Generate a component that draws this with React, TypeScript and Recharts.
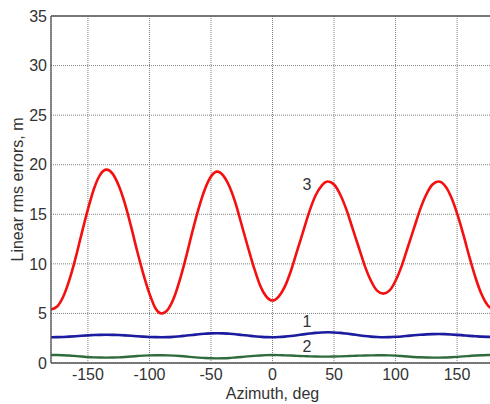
import { CartesianGrid, Line, LineChart, ReferenceDot, ReferenceLine, XAxis, YAxis } from 'recharts';

// azimuth, deg (5° step)
const azimuth = [
  -180, -175, -170, -165, -160, -155, -150, -145, -140, -135, -130, -125, -120, -115, -110, -105, -100, -95, -90,
  -85, -80, -75, -70, -65, -60, -55, -50, -45, -40, -35, -30, -25, -20, -15, -10, -5, 0,
  5, 10, 15, 20, 25, 30, 35, 40, 45, 50, 55, 60, 65, 70, 75, 80, 85, 90,
  95, 100, 105, 110, 115, 120, 125, 130, 135, 140, 145, 150, 155, 160, 165, 170, 175, 180,
];

// curve 1 (blue)
const curve1 = [
  2.6, 2.61, 2.63, 2.66, 2.7, 2.75, 2.79, 2.82, 2.84, 2.85, 2.84, 2.82, 2.79, 2.75, 2.7, 2.66, 2.63, 2.61, 2.6,
  2.61, 2.65, 2.7, 2.77, 2.83, 2.9, 2.95, 2.99, 3.0, 2.99, 2.95, 2.9, 2.83, 2.77, 2.7, 2.65, 2.61, 2.6,
  2.62, 2.66, 2.72, 2.8, 2.89, 2.97, 3.04, 3.08, 3.1, 3.08, 3.04, 2.97, 2.89, 2.8, 2.72, 2.66, 2.62, 2.6,
  2.61, 2.64, 2.68, 2.74, 2.8, 2.85, 2.89, 2.91, 2.92, 2.91, 2.88, 2.84, 2.79, 2.74, 2.7, 2.66, 2.64, 2.63,
];

// curve 2 (green)
const curve2 = [
  0.8, 0.8, 0.78, 0.75, 0.7, 0.65, 0.6, 0.57, 0.55, 0.54, 0.55, 0.57, 0.61, 0.66, 0.7, 0.74, 0.77, 0.78, 0.78,
  0.77, 0.74, 0.7, 0.65, 0.59, 0.54, 0.5, 0.48, 0.47, 0.48, 0.51, 0.56, 0.61, 0.67, 0.72, 0.76, 0.79, 0.8,
  0.79, 0.77, 0.75, 0.72, 0.69, 0.67, 0.65, 0.64, 0.64, 0.65, 0.67, 0.69, 0.72, 0.74, 0.76, 0.77, 0.78, 0.78,
  0.77, 0.74, 0.7, 0.66, 0.61, 0.58, 0.56, 0.54, 0.54, 0.55, 0.58, 0.62, 0.67, 0.71, 0.75, 0.78, 0.8, 0.8,
];

// curve 3 (red)
const curve3 = [
  5.4, 5.7, 6.7, 8.4, 10.6, 13.1, 15.5, 17.6, 19.0, 19.5, 19.1, 17.9, 16.1, 13.8, 11.3, 9.0, 7.0, 5.5, 5.0,
  5.4, 6.6, 8.5, 10.8, 13.3, 15.6, 17.5, 18.8, 19.3, 18.9, 17.8, 16.1, 13.9, 11.7, 9.6, 7.8, 6.7, 6.3,
  6.7, 7.7, 9.3, 11.3, 13.3, 15.3, 16.9, 17.9, 18.3, 18.0, 17.0, 15.5, 13.6, 11.7, 9.8, 8.3, 7.3, 7.0,
  7.3, 8.3, 9.8, 11.7, 13.6, 15.5, 17.0, 18.0, 18.3, 17.9, 16.8, 15.1, 13.0, 10.7, 8.6, 6.9, 5.8, 5.4,
];

const xTicks = [-150, -100, -50, 0, 50, 100, 150];
const yTicks = [0, 5, 10, 15, 20, 25, 30, 35];

// curve labels: [text, azimuth, value]
const curveLabels: [string, number, number][] = [
  ['3', 28, 18],
  ['1', 28, 4.2],
  ['2', 28, 1.65],
];

const FONT = 'Liberation Sans, Arial, sans-serif';
const TEXT = '#333333';

export default function App() {
  const data = azimuth.map((a, i) => ({ az: a, c1: curve1[i], c2: curve2[i], c3: curve3[i] }));

  return (
    <div style={{ position: 'absolute', left: 0, top: 0, width: 490, height: 404, overflow: 'hidden', background: '#fff' }}>
      <LineChart width={500} height={404} data={data} margin={{ top: 16, right: 6, left: 0, bottom: 0 }} style={{ fontFamily: FONT }}>
        <CartesianGrid stroke="#808080" strokeDasharray="1 1" strokeWidth={1} />
        <XAxis
          dataKey="az"
          type="number"
          domain={[-180, 180]}
          ticks={xTicks}
          height={41}
          tickSize={0}
          tickMargin={6}
          stroke="#555"
          strokeWidth={1.3}
          tick={{ fontSize: 16, fill: TEXT }}
          label={{ value: 'Azimuth, deg', position: 'insideBottom', offset: 5, fontSize: 16, fill: TEXT }}
        />
        <YAxis
          type="number"
          domain={[0, 35]}
          ticks={yTicks}
          width={51}
          tickSize={0}
          tickMargin={4}
          stroke="#555"
          strokeWidth={1.3}
          tick={{ fontSize: 16, fill: TEXT }}
          label={{ value: 'Linear rms errors, m', angle: -90, position: 'insideLeft', offset: 17, fontSize: 16, fill: TEXT, style: { textAnchor: 'middle' } }}
        />
        <ReferenceLine y={35} stroke="#555" strokeWidth={1.3} />
        <Line type="monotone" dataKey="c3" stroke="#f41010" strokeWidth={2.6} dot={false} isAnimationActive={false} />
        <Line type="monotone" dataKey="c1" stroke="#1c1ca0" strokeWidth={2.6} dot={false} isAnimationActive={false} />
        <Line type="monotone" dataKey="c2" stroke="#2f6b3c" strokeWidth={2.4} dot={false} isAnimationActive={false} />
        {curveLabels.map(([t, x, y]) => (
          <ReferenceDot
            key={t}
            x={x}
            y={y}
            r={0}
            fill="none"
            stroke="none"
            label={{ value: t, position: 'center', fontSize: 16, fill: TEXT }}
          />
        ))}
      </LineChart>
    </div>
  );
}
